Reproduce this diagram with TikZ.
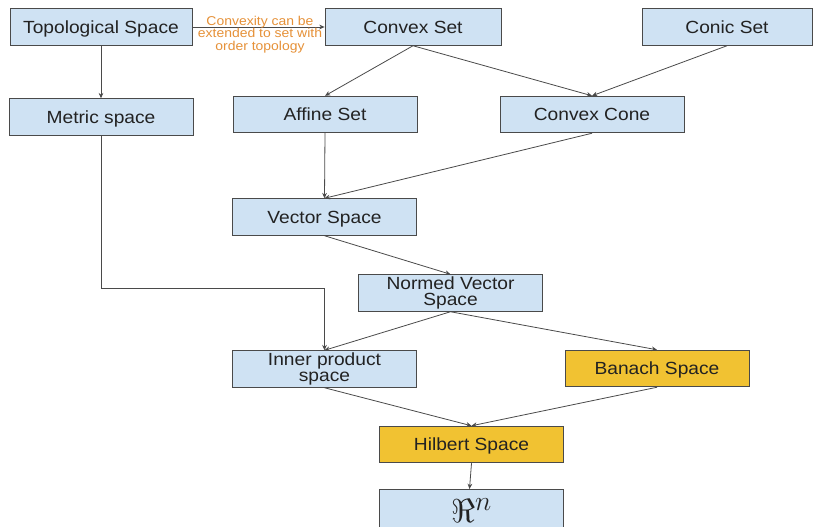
\documentclass[tikz,border=0pt]{standalone}
\usepackage{fontspec}
\setmainfont{Liberation Sans}[FakeStretch=1.09]
\usetikzlibrary{arrows.meta,calc}
\definecolor{boxblue}{HTML}{CFE2F3}
\definecolor{boxyellow}{HTML}{F1C232}
\definecolor{edgegray}{HTML}{4A4A4A}
\definecolor{textgray}{HTML}{222222}
\definecolor{labelorange}{HTML}{E69138}
\tikzset{
  concept/.style={draw=edgegray, line width=0.6pt, fill=boxblue, minimum height=27.5pt,
    inner sep=1pt, align=center, text=textgray, font=\fontsize{13.2}{12.6}\selectfont},
  oneline/.style={text height=9.4pt, text depth=0pt},
  highlight/.style={concept, oneline, fill=boxyellow},
  link/.style={draw=edgegray, line width=0.6pt, -{Stealth[length=4pt,width=3.5pt]}},
}
\begin{document}
\begin{tikzpicture}[x=0.75pt,y=-0.75pt]
\useasboundingbox[fill=white] (0,0) rectangle (821,526);
\begin{scope}
\clip (0,0) rectangle (821,526);
\node[concept, oneline, minimum width=136.5pt] (top) at (101,27) {Topological Space};
\node[concept, oneline, minimum width=132pt] (cvx) at (413,27) {Convex Set};
\node[concept, oneline, minimum width=127.5pt] (con) at (727,27) {Conic Set};
\node[concept, oneline, minimum width=138pt] (met) at (101,117) {Metric space};
\node[concept, oneline, minimum width=138pt] (aff) at (325,114.5) {Affine Set};
\node[concept, oneline, minimum width=138pt] (cone) at (592,114.5) {Convex Cone};
\node[concept, oneline, minimum width=138pt] (vec) at (324.5,217) {Vector Space};
\node[concept, minimum width=138pt] (nvs) at (450.5,293) {Normed Vector\\Space};
\node[concept, minimum width=138pt] (inn) at (324.5,369) {Inner product\\space};
\node[highlight, minimum width=138pt] (ban) at (657,368.5) {Banach Space};
\node[highlight, minimum width=138pt] (hil) at (471.5,444.5) {Hilbert Space};
\node[concept, minimum width=138pt, anchor=north, inner ysep=3pt, text height=21.5pt, text depth=20pt,
  font=\fontsize{30}{30}\selectfont] (rn) at (471.5,489) {$\Re^{n}$};

\draw[link] (top.east) -- (cvx.west);
\node[text=labelorange, align=center, font=\fontsize{9.6}{9.5}\selectfont] (lbl) at (260,34.5) {Convexity can be\\extended to set with\\order topology};
\draw[link] (top.south) -- (met.north);
\draw[link] (cvx.south) -- (aff.north);
\draw[link] (cvx.south) -- (cone.north);
\draw[link] (con.south) -- (cone.north);
\draw[link] (aff.south) -- (vec.north);
\draw[link] (cone.south) -- (vec.north);
\draw[link] (vec.south) -- (nvs.north);
\draw[link] (met.south) -- ++(0,153) -| (inn.north);
\draw[link] (nvs.south) -- (inn.north);
\draw[link] (nvs.south) -- (ban.north);
\draw[link] (inn.south) -- (hil.north);
\draw[link] (ban.south) -- (hil.north);
\draw[link] (hil.south) -- ($(rn.north)+(-2,0)$);
\end{scope}
\end{tikzpicture}
\end{document}
